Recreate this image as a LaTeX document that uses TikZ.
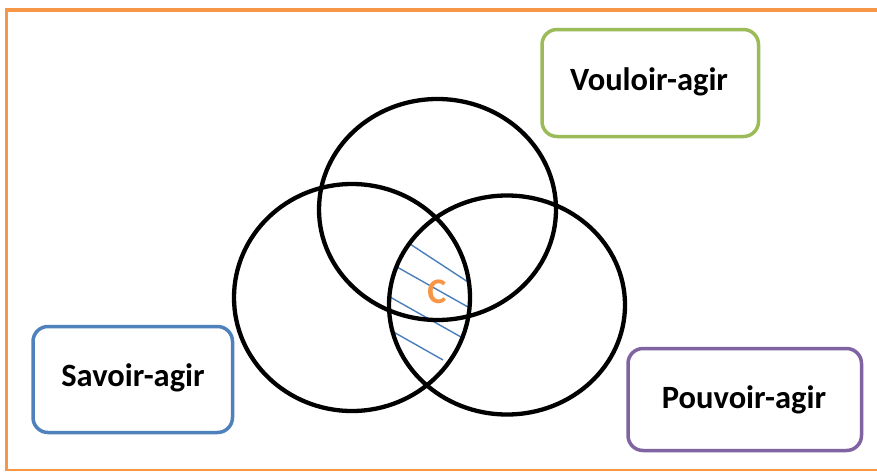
\documentclass[tikz,border=0pt]{standalone}
\usepackage{fontspec}
\setmainfont{Carlito}
\definecolor{frameorange}{HTML}{F79646}
\definecolor{boxblue}{HTML}{4F81BD}
\definecolor{boxgreen}{HTML}{9BBB59}
\definecolor{boxpurple}{HTML}{8064A2}
\definecolor{hatchblue}{HTML}{4A7EBB}
\tikzset{
  venn/.style={draw=black, line width=4.3pt},
  labelbox/.style={draw, line width=3.5pt, rounded corners=15pt, fill=white},
  labeltext/.style={font=\fontsize{32.5}{38}\selectfont\bfseries, text=black},
  hatch/.style={draw=hatchblue, line width=1.4pt}
}
\begin{document}
\begin{tikzpicture}[x=1pt,y=-1pt]
\useasboundingbox (0,0) rectangle (877,471);
% frame
\draw[frameorange, line width=4pt] (5,9.5) -- (877,9.5);
\draw[frameorange, line width=3pt] (6.5,8) -- (6.5,470.5);
\draw[frameorange, line width=2pt] (5,469.5) -- (877,469.5);
% hatching
\coordinate (h1a) at (410,244); \coordinate (h1b) at (468,282);
\coordinate (h2a) at (397,267); \coordinate (h2b) at (468,307);
\coordinate (h3a) at (390,297); \coordinate (h3b) at (461,337);
\coordinate (h4a) at (390,330); \coordinate (h4b) at (443,360);
\draw[hatch] (h1a) -- (h1b);
\draw[hatch] (h2a) -- (h2b);
\draw[hatch] (h3a) -- (h3b);
\draw[hatch] (h4a) -- (h4b);
% circles
\draw[venn] (437.5,209.5) ellipse [x radius=118.5, y radius=110.5];
\draw[venn] (352,297.5) ellipse [x radius=118, y radius=113.5];
\draw[venn] (507,305) ellipse [x radius=118, y radius=109.5];
% center label
\node[font=\fontsize{36}{40}\selectfont\bfseries, text=frameorange] (c) at (437,292) {C};
% boxes
\draw[labelbox, draw=boxgreen] (542,29.5) rectangle (758.5,136.5);
\node[labeltext] (vouloir) at (649,82) {Vouloir-agir};
\draw[labelbox, draw=boxblue] (33,326.5) rectangle (232.5,432.5);
\node[labeltext] (savoir) at (133,378) {Savoir-agir};
\draw[labelbox, draw=boxpurple] (628,348.5) rectangle (861.5,450.5);
\node[labeltext] (pouvoir) at (744,400) {Pouvoir-agir};
\end{tikzpicture}
\end{document}
